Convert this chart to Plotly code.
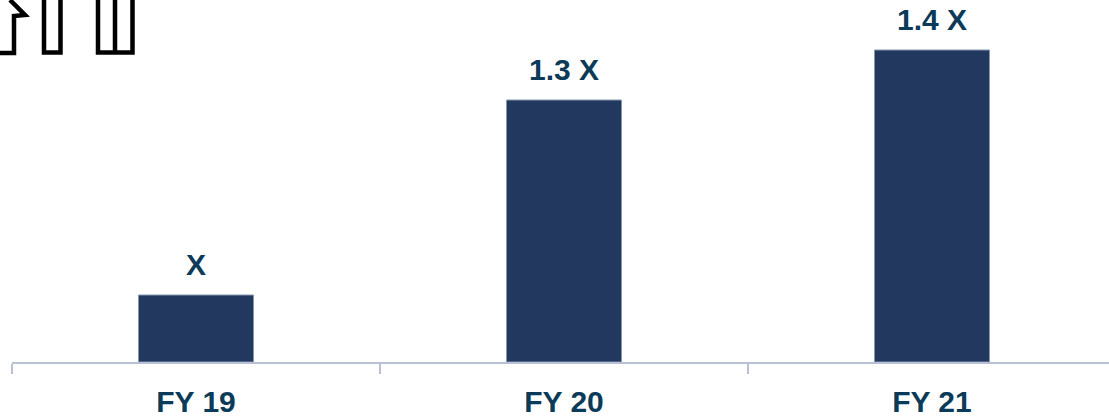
import plotly.graph_objects as go

# Fiscal years and bar heights (relative units on the value axis)
categories = ["FY 19", "FY 20", "FY 21"]
bar_values = [0.67, 2.62, 3.12]
bar_labels = ["X", "1.3 X", "1.4 X"]

BAR_COLOR = "#22385f"
BAR_EDGE = "#8796b3"
TEXT_COLOR = "#0b3b58"
AXIS_COLOR = "#b8c2d2"
FONT = "Liberation Sans, Arial, sans-serif"

fig = go.Figure(
    go.Bar(
        x=categories,
        y=bar_values,
        marker=dict(color=BAR_COLOR, line=dict(color=BAR_EDGE, width=1)),
        width=0.3125,
        hoverinfo="skip",
    )
)

# Value labels above each bar
for cat, val, lab in zip(categories, bar_values, bar_labels):
    fig.add_annotation(
        x=cat, y=val, text=f"<b>{lab}</b>", showarrow=False,
        xanchor="center", yanchor="bottom", yshift=12,
        font=dict(family=FONT, size=30, color=TEXT_COLOR),
    )

# Outlined decorative glyphs in the top-left corner (pixel offsets from the plot's top-left)
glyph_paths = [
    "M -2,0 L 13,15 L 2,16 L 2,53 L -14,53",
    "M 32,0 L 32,52.5 L 48.5,52.5 L 48.5,0",
    "M 86,0 L 86,52.5 L 120.5,52.5 L 120.5,0 M 103,0 L 103,52.5",
]
for p in glyph_paths:
    # flip y so the path is written in screen-down pixels
    segs = []
    for tok in p.split(" "):
        if "," in tok:
            a, b = tok.split(",")
            segs.append(f"{a},{-float(b)}")
        else:
            segs.append(tok)
    fig.add_shape(
        type="path", path=" ".join(segs),
        xref="paper", yref="paper", xsizemode="pixel", ysizemode="pixel",
        xanchor=0, yanchor=1,
        line=dict(color="black", width=4.5), fillcolor="rgba(0,0,0,0)",
        layer="above",
    )

fig.update_layout(
    width=1109, height=419,
    margin=dict(l=12, r=0, t=0, b=57),
    paper_bgcolor="white", plot_bgcolor="white",
    showlegend=False,
    xaxis=dict(
        range=[-0.5, 2.481],
        showline=True, linecolor=AXIS_COLOR, linewidth=2,
        ticks="outside", tickson="boundaries", ticklen=10, tickwidth=2, tickcolor=AXIS_COLOR,
        showgrid=False, zeroline=False,
        ticklabelstandoff=12,
        tickfont=dict(family=FONT, size=30, color=TEXT_COLOR),
        tickvals=categories, ticktext=[f"<b>{c}</b>" for c in categories],
    ),
    yaxis=dict(range=[0, 3.62], visible=False, showgrid=False, zeroline=False),
)

fig.write_html("out.html")
